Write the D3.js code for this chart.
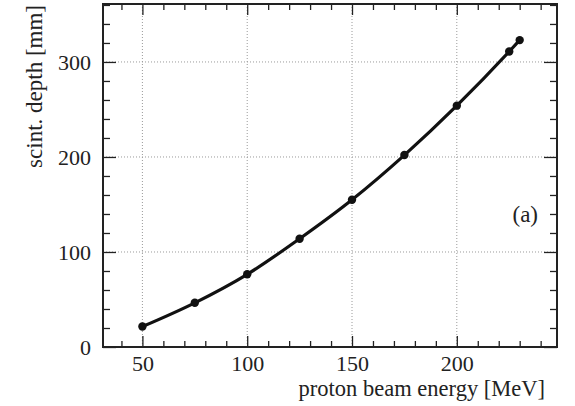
<!DOCTYPE html>
<html>
<head>
<meta charset="utf-8">
<script src="https://cdn.jsdelivr.net/npm/d3@7"></script>
<style>
  html, body { margin: 0; padding: 0; background: #fff; }
  svg { display: block; }
  text { font-family: "Liberation Serif", "Times New Roman", Times, serif; fill: #222; }
</style>
</head>
<body>
<svg id="chart" width="575" height="406"></svg>
<script>
// Scintillator depth vs. proton beam energy
const energies = [50, 75, 100, 125, 150, 175, 200, 225, 230];
const depths   = [21.5, 46.5, 76.5, 114, 155, 202, 254, 311, 323];
const xMajorTicks = [50, 100, 150, 200];
const yMajorTicks = [0, 100, 200, 300];
const xLabel = "proton beam energy [MeV]";
const yLabel = "scint. depth [mm]";
const panelTag = "(a)";

const svg = d3.select("#chart");
const pLeft = 103, pRight = 557, pTop = 4, pBottom = 347;
const serif = '"Liberation Serif", "Times New Roman", Times, serif';

const x = d3.scaleLinear().domain([31.2, 247.8]).range([pLeft, pRight]);
const y = d3.scaleLinear().domain([0, 361]).range([pBottom, pTop]);

const xMinor = d3.range(40, 248, 10);
const yMinor = d3.range(0, 361, 20);

// dotted grid at major ticks
const grid = svg.append("g").attr("stroke", "#9a9a9a").attr("stroke-width", 1)
  .attr("stroke-dasharray", "1,2");
grid.selectAll(".gx").data(xMajorTicks).join("line")
  .attr("x1", d => x(d)).attr("x2", d => x(d)).attr("y1", pTop).attr("y2", pBottom);
grid.selectAll(".gy").data(yMajorTicks.filter(d => d > 0)).join("line")
  .attr("y1", d => y(d)).attr("y2", d => y(d)).attr("x1", pLeft).attr("x2", pRight);

// inward ticks on all four sides
function ticks(g, axis, size) {
  g.call(axis.tickSize(size).tickSizeOuter(0).tickFormat(""));
  g.select(".domain").remove();
  g.selectAll(".tick line").attr("stroke", "#222").attr("stroke-width", 1.3);
}
const isMajX = d => xMajorTicks.includes(d);
const isMajY = d => yMajorTicks.includes(d);

[[d3.axisTop, pBottom], [d3.axisBottom, pTop]].forEach(([ax, pos]) => {
  svg.append("g").attr("transform", `translate(0,${pos})`)
    .call(g => ticks(g, ax(x).tickValues(xMinor.filter(d => !isMajX(d))), 6));
  svg.append("g").attr("transform", `translate(0,${pos})`)
    .call(g => ticks(g, ax(x).tickValues(xMajorTicks), 11));
});
[[d3.axisRight, pLeft], [d3.axisLeft, pRight]].forEach(([ax, pos]) => {
  svg.append("g").attr("transform", `translate(${pos},0)`)
    .call(g => ticks(g, ax(y).tickValues(yMinor.filter(d => !isMajY(d))), 7));
  svg.append("g").attr("transform", `translate(${pos},0)`)
    .call(g => ticks(g, ax(y).tickValues(yMajorTicks), 13));
});

// frame
svg.append("rect").attr("x", pLeft).attr("y", pTop)
  .attr("width", pRight - pLeft).attr("height", pBottom - pTop)
  .attr("fill", "none").attr("stroke", "#222").attr("stroke-width", 2);

// tick labels
const xAxis = svg.append("g").attr("transform", `translate(0,${pBottom})`)
  .call(d3.axisBottom(x).tickValues(xMajorTicks).tickSize(0).tickPadding(8.5));
xAxis.select(".domain").remove();
xAxis.selectAll("text").style("font-size", "22px").style("font-family", serif);

const yAxis = svg.append("g").attr("transform", `translate(${pLeft},0)`)
  .call(d3.axisLeft(y).tickValues(yMajorTicks).tickSize(0).tickPadding(12));
yAxis.select(".domain").remove();
yAxis.selectAll("text").style("font-size", "22px").style("font-family", serif);

// axis titles
svg.append("text").attr("x", 545).attr("y", 395.5).attr("text-anchor", "end")
  .style("font-size", "22.5px").text(xLabel);
svg.append("text").attr("transform", "translate(42,5) rotate(-90)")
  .attr("text-anchor", "end").style("font-size", "23px").text(yLabel);

// panel tag
svg.append("text").attr("x", 538).attr("y", 222).attr("text-anchor", "end")
  .style("font-size", "23px").text(panelTag);

// curve and markers
const pts = energies.map((e, i) => [e, depths[i]]);
svg.append("path").datum(pts)
  .attr("fill", "none").attr("stroke", "#111").attr("stroke-width", 3.2)
  .attr("stroke-linejoin", "round")
  .attr("d", d3.line().x(d => x(d[0])).y(d => y(d[1])).curve(d3.curveMonotoneX));
svg.append("g").selectAll("circle").data(pts).join("circle")
  .attr("cx", d => x(d[0])).attr("cy", d => y(d[1])).attr("r", 4.2)
  .attr("fill", "#111");
</script>
</body>
</html>
